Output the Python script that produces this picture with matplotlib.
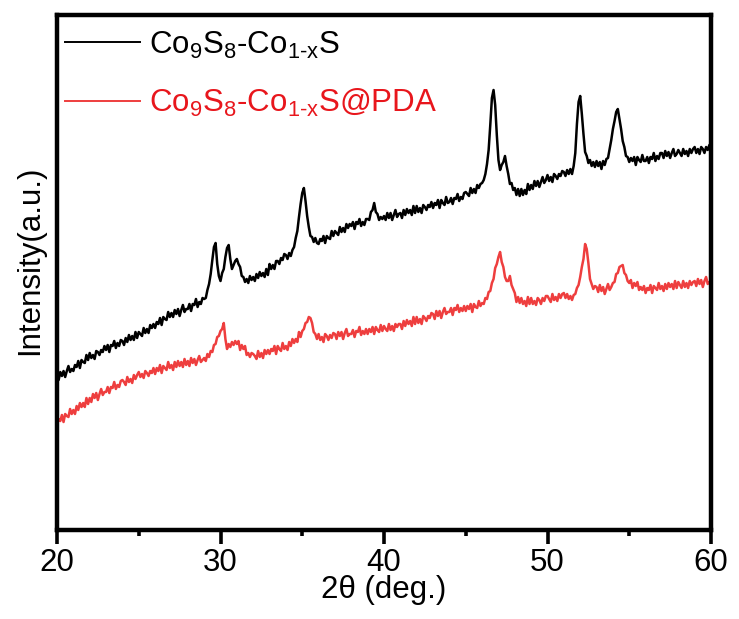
import numpy as np
import matplotlib
matplotlib.use("Agg")
import matplotlib.pyplot as plt

plt.rcParams['font.family'] = ['Liberation Sans', 'DejaVu Sans']
plt.rcParams['mathtext.fontset'] = 'custom'
plt.rcParams['mathtext.rm'] = 'Liberation Sans'
plt.rcParams['mathtext.it'] = 'Liberation Sans'
plt.rcParams['mathtext.bf'] = 'Liberation Sans:bold'

# ---------------- data (2theta in degrees, intensity in a.u.) ----------------
two_theta = [round(20 + 0.1 * i, 1) for i in range(401)]

intensity_co9s8 = [
    154, 150, 158, 154, 159, 153, 159, 164, 158, 161,   # 20
    159, 165, 163, 169, 162, 170, 168, 167, 175, 170,   # 21
    177, 172, 175, 171, 179, 178, 175, 180, 178, 184,   # 22
    180, 185, 178, 185, 184, 189, 182, 187, 184, 190,   # 23
    189, 185, 192, 188, 195, 190, 194, 190, 198, 192,   # 24
    198, 196, 194, 202, 197, 201, 197, 205, 202, 206,   # 25
    202, 208, 206, 212, 205, 213, 211, 210, 218, 213,   # 26
    217, 213, 220, 216, 221, 214, 220, 225, 218, 221,   # 27
    221, 226, 219, 226, 225, 231, 223, 228, 226, 232,   # 28
    231, 232, 240, 246, 256, 270, 283, 287, 266, 254,   # 29
    249, 257, 261, 273, 282, 285, 271, 261, 265, 269,   # 30
    271, 266, 263, 254, 253, 248, 251, 247, 254, 250,   # 31
    253, 249, 256, 252, 258, 254, 257, 253, 261, 255,   # 32
    266, 261, 265, 261, 269, 269, 266, 272, 270, 276,   # 33
    275, 271, 277, 274, 280, 283, 292, 299, 313, 326,   # 34
    337, 342, 329, 314, 303, 294, 293, 288, 292, 287,   # 35
    286, 291, 289, 294, 287, 294, 292, 291, 299, 294,   # 36
    299, 297, 295, 303, 298, 302, 298, 306, 302, 306,   # 37
    304, 308, 301, 308, 306, 311, 304, 308, 305, 311,   # 38
    311, 310, 318, 320, 327, 318, 316, 310, 313, 311,   # 39
    314, 310, 317, 312, 317, 310, 315, 320, 313, 316,   # 40
    317, 312, 320, 315, 321, 317, 320, 315, 324, 317,   # 41
    324, 318, 322, 317, 325, 323, 320, 325, 323, 328,   # 42
    322, 327, 325, 330, 322, 330, 327, 325, 333, 327,   # 43
    328, 332, 326, 332, 331, 336, 329, 333, 331, 337,   # 44
    338, 336, 334, 342, 337, 341, 337, 345, 342, 346,   # 45
    347, 350, 356, 366, 380, 405, 432, 440, 425, 395,   # 46
    370, 360, 365, 368, 374, 364, 356, 346, 347, 340,   # 47
    342, 335, 341, 334, 341, 335, 340, 336, 346, 340,   # 48
    345, 341, 349, 344, 349, 343, 348, 353, 347, 350,   # 49
    355, 349, 353, 348, 356, 354, 351, 356, 354, 359,   # 50
    358, 354, 360, 356, 361, 356, 364, 377, 406, 428,   # 51
    434, 416, 396, 378, 374, 367, 370, 364, 368, 363,   # 52
    369, 364, 368, 361, 369, 365, 371, 372, 381, 390,   # 53
    401, 409, 418, 421, 411, 401, 389, 383, 374, 373,   # 54
    368, 372, 369, 373, 365, 373, 370, 368, 375, 369,   # 55
    369, 373, 367, 373, 371, 377, 369, 374, 371, 377,   # 56
    377, 372, 379, 374, 378, 372, 377, 381, 374, 376,   # 57
    380, 377, 374, 381, 376, 379, 374, 381, 377, 381,   # 58
    383, 377, 381, 376, 383, 381, 377, 383, 380, 385,   # 59
    382,                                                 # 60
]

intensity_pda = [
    105, 111, 109, 115, 108, 116, 114, 113, 121, 116,   # 20
    120, 116, 124, 120, 127, 123, 127, 123, 132, 126,   # 21
    132, 128, 136, 132, 137, 130, 136, 141, 135, 138,   # 22
    138, 143, 137, 143, 142, 148, 141, 145, 143, 149,   # 23
    150, 148, 145, 153, 148, 151, 147, 155, 151, 155,   # 24
    158, 153, 156, 152, 159, 157, 154, 159, 157, 162,   # 25
    156, 162, 159, 165, 157, 164, 162, 160, 168, 162,   # 26
    165, 160, 168, 163, 169, 164, 168, 163, 171, 165,   # 27
    169, 164, 172, 167, 171, 165, 170, 174, 168, 170,   # 28
    172, 169, 176, 173, 179, 178, 185, 186, 193, 194,   # 29
    199, 201, 207, 191, 181, 186, 183, 188, 185, 189,   # 30
    186, 189, 180, 185, 181, 184, 175, 177, 173, 177,   # 31
    176, 174, 171, 179, 173, 177, 172, 180, 176, 180,   # 32
    176, 181, 179, 184, 176, 184, 181, 179, 187, 181,   # 33
    184, 180, 188, 184, 191, 187, 191, 188, 198, 193,   # 34
    199, 201, 207, 208, 213, 212, 207, 198, 196, 191,   # 35
    196, 190, 193, 188, 196, 194, 190, 195, 192, 197,   # 36
    196, 191, 198, 194, 198, 191, 197, 201, 194, 196,   # 37
    196, 200, 193, 199, 198, 203, 195, 199, 196, 201,   # 38
    196, 201, 198, 203, 196, 203, 200, 198, 205, 199,   # 39
    204, 201, 199, 206, 200, 204, 199, 206, 203, 206,   # 40
    206, 201, 209, 204, 210, 206, 209, 204, 213, 206,   # 41
    213, 207, 211, 206, 214, 212, 209, 214, 212, 217,   # 42
    216, 211, 219, 214, 219, 212, 218, 222, 216, 218,   # 43
    218, 222, 215, 222, 220, 225, 218, 222, 219, 224,   # 44
    219, 224, 221, 226, 218, 226, 223, 222, 229, 224,   # 45
    227, 226, 232, 231, 238, 239, 247, 251, 262, 266,   # 46
    273, 278, 268, 263, 253, 249, 249, 254, 245, 241,   # 47
    237, 228, 233, 227, 232, 226, 229, 224, 233, 226,   # 48
    232, 226, 229, 225, 232, 230, 226, 232, 229, 234,   # 49
    234, 231, 228, 236, 230, 233, 229, 236, 232, 236,   # 50
    237, 232, 236, 231, 234, 230, 235, 236, 242, 245,   # 51
    253, 263, 271, 286, 281, 267, 251, 246, 241, 244,   # 52
    243, 238, 245, 239, 243, 236, 241, 246, 240, 243,   # 53
    247, 248, 256, 257, 263, 264, 265, 257, 255, 249,   # 54
    247, 250, 242, 247, 244, 248, 240, 243, 240, 244,   # 55
    237, 242, 240, 245, 237, 244, 242, 240, 247, 241,   # 56
    244, 239, 246, 241, 247, 243, 246, 241, 249, 242,   # 57
    248, 245, 242, 249, 243, 247, 242, 249, 245, 248,   # 58
    249, 244, 251, 246, 250, 243, 249, 253, 246, 248,   # 59
    248,                                                 # 60
]

series_labels = [r'Co$_9$S$_8$-Co$_{1\text{-}x}$S',
                 r'Co$_9$S$_8$-Co$_{1\text{-}x}$S@PDA']
x_ticks = [20, 30, 40, 50, 60]
x_minor = [25, 35, 45, 55]

# ---------------- figure ----------------
W, H = 739, 619
fig = plt.figure(figsize=(W / 100, H / 100), dpi=100)
L, R, T, B = 57, 711, 15, 530
ax = fig.add_axes([L / W, (H - B) / H, (R - L) / W, (B - T) / H])

black = '#000000'
red_line = '#EE3E3E'
red_text = '#E8161C'

ax.plot(two_theta, intensity_co9s8, color=black, lw=1.8, label=series_labels[0])
ax.plot(two_theta, intensity_pda, color=red_line, lw=1.8, label=series_labels[1])

ax.set_xlim(20, 60)
ax.set_ylim(0, 515)
ax.set_xticks(x_ticks)
ax.set_xticks(x_minor, minor=True)
ax.set_yticks([])

for s in ax.spines.values():
    s.set_linewidth(3.2)

ax.tick_params(axis='x', which='major', direction='out', length=10, width=2.6,
               labelsize=22.5, pad=3)
ax.tick_params(axis='x', which='minor', direction='out', length=4.5, width=2.6)

ax.set_xlabel('2θ (deg.)', fontsize=22.5, labelpad=-2)
ax.set_ylabel('Intensity(a.u.)', fontsize=22.5)
ax.yaxis.set_label_coords(-0.018, 0.524)

leg = ax.legend(loc='upper left', bbox_to_anchor=(0.012, 0.972), frameon=False,
                fontsize=22.5, handlelength=2.4, handletextpad=0.3,
                labelspacing=0.85, borderpad=0, borderaxespad=0)
for line in leg.get_lines():
    line.set_linewidth(1.4)
leg.get_texts()[1].set_color(red_text)

fig.savefig('out.png', dpi=100)
